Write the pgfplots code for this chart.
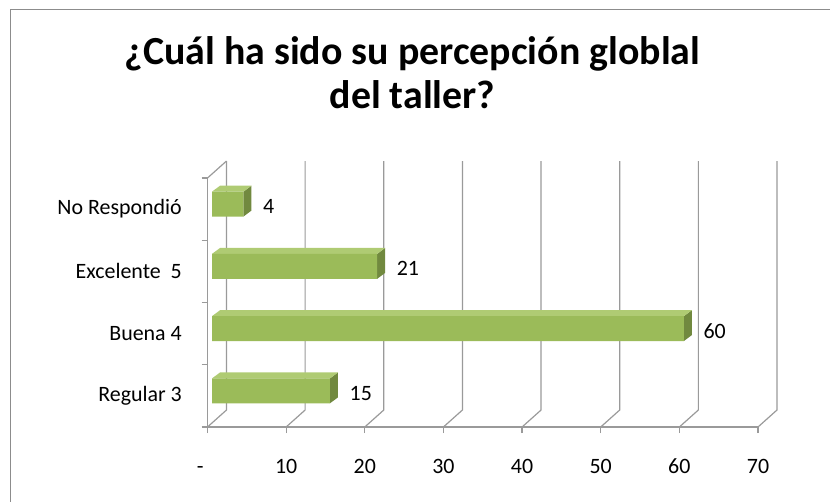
\documentclass[border=0pt]{standalone}
\usepackage{fontspec}
\setmainfont{Carlito}
\usepackage{pgfplots}
\pgfplotsset{compat=1.18}

\definecolor{barfront}{HTML}{9BBB59}
\definecolor{bartop}{HTML}{AFCB73}
\definecolor{barside}{HTML}{71893F}
\definecolor{axisgray}{HTML}{9A9A9A}
\definecolor{framegray}{HTML}{8C8C8C}

\tikzset{barshift/.style={xshift=4.5bp, yshift=5bp}}

% side and top faces of a 3D bar: #1 value, #2 category position
\newcommand{\barfaces}[2]{%
  \pgfmathsetmacro\xa{#1}\pgfmathsetmacro\xb{#1+1.02}%
  \pgfmathsetmacro\ya{#2-0.2}\pgfmathsetmacro\yb{#2+0.2}%
  \pgfmathsetmacro\yc{#2+0.2964}\pgfmathsetmacro\yd{#2-0.1036}%
  \addplot[fill=barside, draw=none, barshift] coordinates {(\xa,\ya) (\xb,\yd) (\xb,\yc) (\xa,\yb)};
  \addplot[fill=bartop, draw=none, barshift] coordinates {(0,\yb) (\xa,\yb) (\xb,\yc) (1.02,\yc)};
}

\begin{document}
\begin{tikzpicture}
\useasboundingbox (0,0) rectangle (830bp,-502bp);
\draw[framegray, line width=1.3bp] (10.5bp,-600bp) -- (10.5bp,-9.5bp) -- (900bp,-9.5bp);

\node[anchor=base, font=\fontsize{40}{44}\selectfont\bfseries] at (412.5bp,-64bp) {¿Cuál ha sido su percepción globlal};
\node[anchor=base, font=\fontsize{40}{44}\selectfont\bfseries] at (412.5bp,-108bp) {del taller?};

\begin{axis}[
    scale only axis,
    width=550.5bp, height=249bp,
    at={(207.5bp,-427bp)}, anchor=south west,
    xmin=0, xmax=70, ymin=0, ymax=4,
    clip=false,
    axis x line*=bottom, axis y line*=left,
    axis line style={axisgray, line width=1.2bp},
    tick align=outside,
    major tick length=6bp,
    tick style={axisgray, line width=1.2bp},
    xtick={0,10,...,70},
    xticklabels={\makebox[0pt][r]{-\hspace{4bp}},10,20,30,40,50,60,70},
    ytick={0.5,1.5,2.5,3.5},
    yticklabels={Regular 3, Buena 4, Excelente\ \ 5, No Respondió},
    ytick style={draw=none},
    extra y ticks={0,1,2,3,4},
    extra y tick labels={},
    extra y tick style={ytick style={draw=axisgray, line width=1.2bp}},
    ticklabel style={font=\fontsize{22}{26}\selectfont},
    xticklabel style={anchor=base, yshift=-40bp},
    yticklabel style={anchor=east, inner sep=0pt, xshift=-19.5bp},
    /pgf/number format/assume math mode=true,
]
% back wall, floor and left wall lines
\pgfplotsinvokeforeach{0,10,...,70}{
  \draw[axisgray, line width=1.2bp] (axis cs:#1,0) -- ++(19bp,17bp) -- ++(0,249bp);
}
\draw[axisgray, line width=1.2bp] (axis cs:0,4) -- ++(19bp,17bp);

% bars
\barfaces{15}{0.5}
\barfaces{60}{1.5}
\barfaces{21}{2.5}
\barfaces{4}{3.5}
\addplot[xbar, bar width=25bp, fill=barfront, draw=none, barshift,
    point meta=x, nodes near coords,
    nodes near coords style={anchor=west, inner sep=0pt, xshift=19.5bp, yshift=-2.5bp,
        font=\fontsize{22}{26}\selectfont, text=black}]
    coordinates {(15,0.5) (60,1.5) (21,2.5) (4,3.5)};
\end{axis}
\end{tikzpicture}
\end{document}
